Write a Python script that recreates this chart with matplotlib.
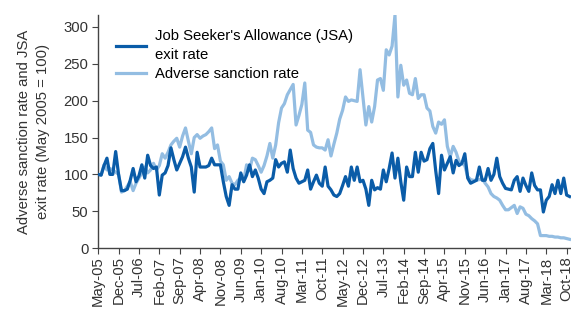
import numpy as np
import matplotlib.pyplot as plt

plt.rcParams['font.family'] = ['Liberation Sans', 'DejaVu Sans']

# monthly index values, May 2005 = 100 (May-05 .. Nov-18)
jsa_exit = [
    100, 99, 112, 122, 100, 100, 131, 100, 78, 78,
    80, 92, 108, 90, 98, 113, 95, 126, 112, 108,
    110, 72, 99, 102, 112, 136, 120, 106, 115, 124,
    137, 122, 110, 76, 130, 110, 110, 110, 112, 122,
    113, 113, 113, 90, 70, 58, 86, 80, 80, 102,
    90, 99, 113, 97, 106, 95, 80, 74, 90, 92,
    95, 120, 110, 115, 117, 103, 133, 108, 95, 88,
    90, 92, 106, 80, 90, 99, 88, 84, 110, 84,
    79, 72, 70, 74, 85, 97, 84, 110, 92, 110,
    90, 92, 80, 58, 92, 79, 82, 80, 106, 90,
    108, 129, 95, 122, 90, 65, 110, 97, 97, 130,
    103, 130, 118, 120, 135, 142, 105, 74, 126, 106,
    115, 124, 102, 119, 112, 115, 128, 95, 88, 90,
    92, 110, 92, 92, 108, 92, 100, 122, 97, 88,
    81, 80, 79, 92, 97, 77, 95, 85, 77, 102,
    85, 79, 79, 49, 65, 70, 86, 74, 92, 74,
    95, 72, 70,
]

sanction_rate = [
    100, 99, 113, 106, 108, 106, 103, 100, 76, 78,
    84, 90, 78, 88, 95, 102, 110, 102, 106, 115,
    106, 112, 128, 122, 130, 140, 145, 149, 137, 152,
    163, 145, 128, 150, 154, 149, 152, 154, 158, 163,
    135, 140, 118, 113, 92, 97, 88, 86, 92, 95,
    92, 113, 106, 122, 120, 112, 103, 112, 125, 142,
    122, 140, 170, 190, 196, 208, 215, 222, 167, 180,
    195, 224, 160, 157, 140, 137, 136, 136, 133, 147,
    125, 141, 156, 175, 187, 205, 199, 201, 200, 199,
    242, 205, 167, 192, 171, 192, 228, 230, 214, 269,
    262, 274, 316, 205, 248, 221, 228, 210, 208, 230,
    203, 208, 208, 190, 186, 165, 156, 171, 168, 174,
    138, 124, 138, 130, 118, 115, 112, 97, 93, 92,
    92, 93, 94, 88, 83, 74, 70, 68, 65, 58,
    52, 52, 55, 58, 47, 56, 54, 46, 44, 40,
    37, 33, 17, 17, 17, 16, 16, 15, 15, 14,
    14, 13, 12,
]

tick_labels = ['May-05', 'Dec-05', 'Jul-06', 'Feb-07', 'Sep-07', 'Apr-08',
               'Nov-08', 'Jun-09', 'Jan-10', 'Aug-10', 'Mar-11', 'Oct-11',
               'May-12', 'Dec-12', 'Jul-13', 'Feb-14', 'Sep-14', 'Apr-15',
               'Nov-15', 'Jun-16', 'Jan-17', 'Aug-17', 'Mar-18', 'Oct-18']

months = np.arange(len(jsa_exit))

fig = plt.figure(figsize=(5.71, 3.09), dpi=100)
ax = fig.add_axes([0.172, 0.197, 0.828, 0.754])

ax.plot(months, jsa_exit, color='#0a5ca8', lw=2.3,
        label="Job Seeker's Allowance (JSA)\nexit rate", zorder=3)
ax.plot(months, sanction_rate, color='#93bde2', lw=2.3,
        label='Adverse sanction rate', zorder=2)

ax.set_xlim(0, 162.5)
ax.set_ylim(0, 316)
ax.set_yticks([0, 50, 100, 150, 200, 250, 300])
ax.set_xticks(np.arange(0, 7 * len(tick_labels), 7))
ax.set_xticklabels(tick_labels, rotation=90)

for s in ['top', 'right']:
    ax.spines[s].set_visible(False)
for s in ['left', 'bottom']:
    ax.spines[s].set_color('#444444')
    ax.spines[s].set_linewidth(1.0)
ax.tick_params(axis='both', colors='#444444', labelcolor='#333333',
               labelsize=10.7, length=4, width=0.8)
ax.tick_params(axis='y', pad=3)
ax.tick_params(axis='x', pad=2)

ax.set_ylabel('Adverse sanction rate and JSA\nexit rate (May 2005 = 100)',
              fontsize=10.7, color='#333333', labelpad=10, linespacing=1.4)

leg = ax.legend(loc='upper left', frameon=False, fontsize=10.7, handlelength=2.0,
                borderaxespad=0.0, labelspacing=0.35, handletextpad=0.6,
                bbox_to_anchor=(0.025, 0.965))
for t in leg.get_texts():
    t.set_linespacing(1.4)

fig.savefig('out.png', dpi=100)
